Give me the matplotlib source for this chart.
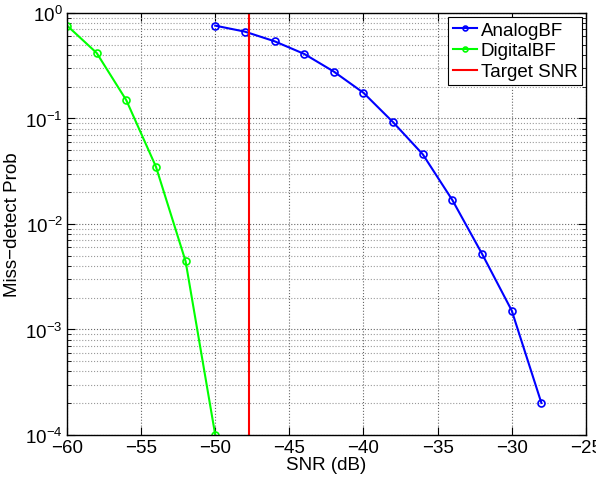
import matplotlib
matplotlib.use("Agg")
import matplotlib.pyplot as plt
from matplotlib.ticker import LogLocator, NullFormatter

plt.rcParams['font.family'] = ['Liberation Sans', 'DejaVu Sans']
plt.rcParams['font.size'] = 13.5
plt.rcParams['mathtext.fontset'] = 'custom'
plt.rcParams['mathtext.rm'] = 'Liberation Sans'

# Data
snr_analog = [-50, -48, -46, -44, -42, -40, -38, -36, -34, -32, -30, -28]
prob_analog = [0.758, 0.665, 0.539, 0.409, 0.278, 0.175, 0.092, 0.0457, 0.0168, 0.0052, 0.00151, 0.000201]

snr_digital = [-60, -58, -56, -54, -52, -50]
prob_digital = [0.76, 0.418, 0.149, 0.0349, 0.00443, 0.0001]

target_snr = -47.7

fig = plt.figure(figsize=(5.96, 4.81), dpi=100)
ax = fig.add_axes([0.1124, 0.0936, 0.983 - 0.1124, 0.971 - 0.0936])

ax.semilogy(snr_analog, prob_analog, color='#0000ff', marker='o', markersize=5,
            markerfacecolor='none', markeredgewidth=1.2, linewidth=1.5, label='AnalogBF', clip_on=False)
ax.semilogy(snr_digital, prob_digital, color='#00ff00', marker='o', markersize=5,
            markerfacecolor='none', markeredgewidth=1.2, linewidth=1.5, label='DigitalBF')
ax.axvline(target_snr, color='#ff0000', linewidth=1.5, label='Target SNR')

ax.set_xlim(-60, -25)
ax.set_ylim(1e-4, 1)
ax.set_xticks([-60, -55, -50, -45, -40, -35, -30, -25])
ax.set_xticklabels(['\u221260', '\u221255', '\u221250', '\u221245', '\u221240', '\u221235', '\u221230', '\u221225'])
ax.yaxis.set_major_locator(LogLocator(base=10, numticks=10))
ax.yaxis.set_minor_locator(LogLocator(base=10, subs=range(2, 10), numticks=10))
ax.yaxis.set_minor_formatter(NullFormatter())

ax.grid(True, which='major', linestyle=':', color='#666666', linewidth=0.8)
ax.grid(True, which='minor', axis='y', linestyle=':', color='#999999', linewidth=0.8)
ax.tick_params(which='both', direction='in', top=True, right=True, labelsize=13.5)
ax.tick_params(which='major', length=6, pad=3)
ax.tick_params(which='minor', length=3)
for s in ax.spines.values():
    s.set_linewidth(1.0)

ax.set_xlabel('SNR (dB)', labelpad=0)
ax.set_ylabel('Miss\u2212detect Prob', labelpad=3)

leg = ax.legend(loc='upper right', fancybox=False, edgecolor='black', framealpha=1,
                borderaxespad=0.2, handlelength=1.3, handletextpad=0.2, borderpad=0.25,
                labelspacing=0.2, markerscale=0.7)
leg.get_frame().set_linewidth(0.8)

fig.savefig('out.png', dpi=100)
